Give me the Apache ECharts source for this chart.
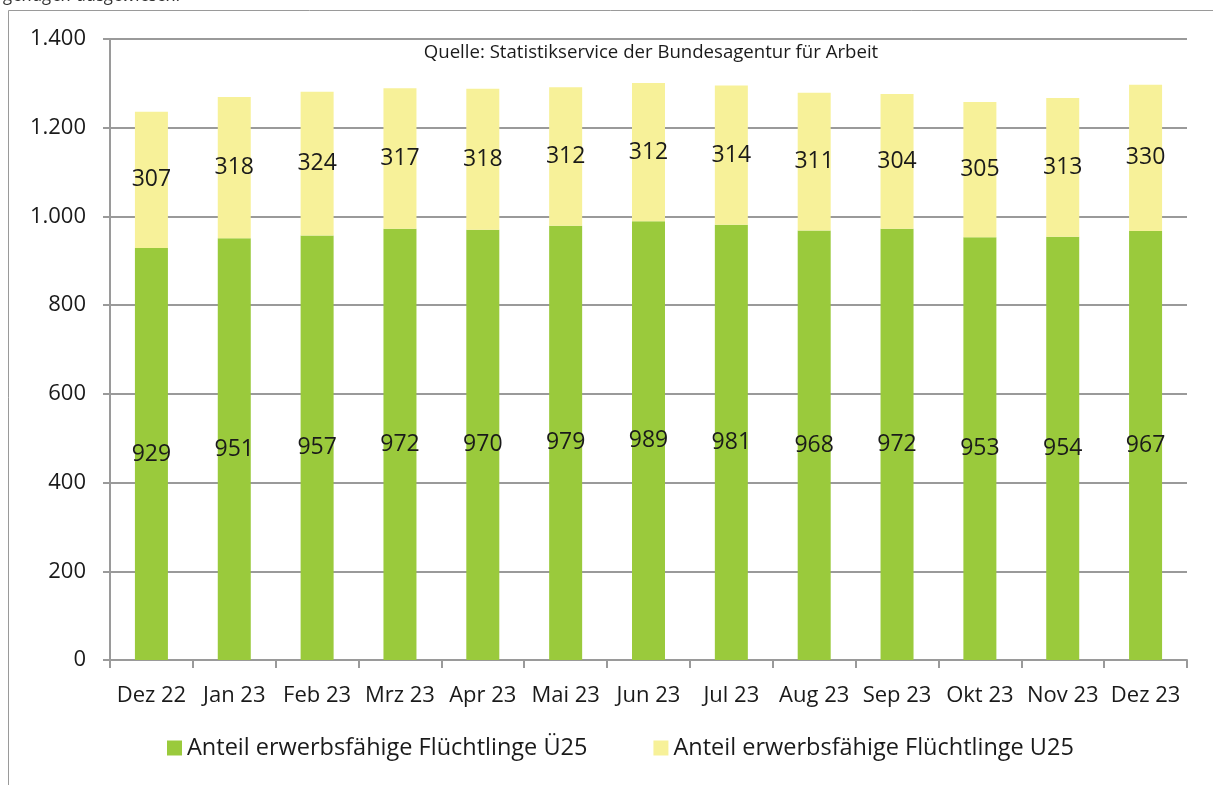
<!DOCTYPE html>
<html>
<head>
<meta charset="utf-8">
<script src="https://cdn.jsdelivr.net/npm/echarts@6/dist/echarts.min.js"></script>
<style>
  html, body { margin: 0; padding: 0; background: #fff; }
  #chart { width: 1213px; height: 785px; }
</style>
</head>
<body>
<div id="chart"></div>
<script>
var months = ['Dez 22', 'Jan 23', 'Feb 23', 'Mrz 23', 'Apr 23', 'Mai 23', 'Jun 23',
    'Jul 23', 'Aug 23', 'Sep 23', 'Okt 23', 'Nov 23', 'Dez 23'];
var over25 = [929, 951, 957, 972, 970, 979, 989, 981, 968, 972, 953, 954, 967];
var under25 = [307, 318, 324, 317, 318, 312, 312, 314, 311, 304, 305, 313, 330];
var seriesNames = ['Anteil erwerbsfähige Flüchtlinge Ü25', 'Anteil erwerbsfähige Flüchtlinge U25'];

var fontName = '"Open Sans", "Liberation Sans", sans-serif';
var labelStyle = {
    show: true,
    position: 'inside',
    color: '#1a1a1a',
    fontSize: 23,
    fontFamily: fontName
};

var chart = echarts.init(document.getElementById('chart'));
chart.setOption({
    animation: false,
    grid: { left: 110, right: 26, top: 39, bottom: 125 },
    graphic: [
        // cut-off note above the frame
        { type: 'text', left: 4, top: -13,
          style: { text: 'genügen ausgewiesen.', font: 'italic 18px ' + fontName, fill: '#333' } },
        // chart frame (left + top edges)
        { type: 'polyline', shape: { points: [[8.5, 785], [8.5, 10.5], [1213, 10.5]] },
          style: { stroke: '#9a9a9a', lineWidth: 1, fill: null } },
        { type: 'text', x: 651, y: 53,
          style: { text: 'Quelle: Statistikservice der Bundesagentur für Arbeit',
                   font: '18.6px ' + fontName, fill: '#1a1a1a', align: 'center', verticalAlign: 'middle' } }
    ],
    legend: {
        bottom: 20,
        left: 162,
        itemWidth: 15,
        itemHeight: 15,
        itemGap: 66,
        icon: 'rect',
        textStyle: { fontSize: 23.5, fontFamily: fontName, color: '#1a1a1a' },
        data: seriesNames
    },
    xAxis: {
        type: 'category',
        data: months,
        axisLine: { lineStyle: { color: '#9a9a9a', width: 2 } },
        axisTick: { show: true, length: 8, lineStyle: { color: '#9a9a9a', width: 2 } },
        axisLabel: { fontSize: 22, fontFamily: fontName, color: '#1a1a1a', margin: 25, interval: 0 }
    },
    yAxis: {
        type: 'value',
        min: 0,
        max: 1400,
        interval: 200,
        axisLine: { show: true, lineStyle: { color: '#9a9a9a', width: 2 } },
        axisTick: { show: true, length: 7, lineStyle: { color: '#9a9a9a', width: 2 } },
        splitLine: { lineStyle: { color: '#9a9a9a', width: 2 } },
        axisLabel: {
            fontSize: 22, fontFamily: fontName, color: '#1a1a1a', margin: 24,
            formatter: function (v) { return v >= 1000 ? String(v).replace(/(\d)(\d{3})$/, '$1.$2') : v; }
        }
    },
    series: [
        {
            name: seriesNames[0],
            type: 'bar',
            stack: 'total',
            barWidth: 33,
            itemStyle: { color: '#9aca3c' },
            label: labelStyle,
            data: over25
        },
        {
            name: seriesNames[1],
            type: 'bar',
            stack: 'total',
            barWidth: 33,
            itemStyle: { color: '#f7f199' },
            label: labelStyle,
            data: under25
        }
    ]
});
</script>
</body>
</html>
